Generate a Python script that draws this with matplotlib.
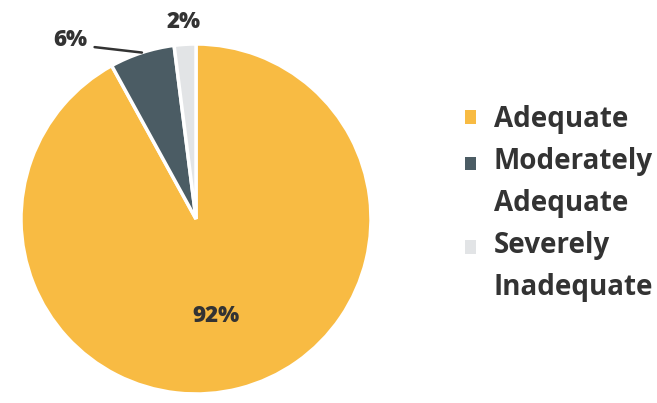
#!/usr/bin/env python3
"""Pie chart: adequacy shares with side legend."""

import numpy as np
import matplotlib
matplotlib.use('Agg')
import matplotlib.pyplot as plt

plt.rcParams['font.family'] = ['Open Sans', 'DejaVu Sans']

# ── Data ──────────────────────────────────────────────────────────
categories = ['Adequate', 'Moderately\nAdequate', 'Severely\nInadequate']
shares = [92, 6, 2]
pct_labels = ['92%', '6%', '2%']

COLORS = ['#F8BB43', '#4B5C64', '#E2E4E6']
TEXT = '#333333'

fig = plt.figure(figsize=(6.57, 4.03), dpi=100)
# pie axes placed in pixel terms: centre (196, 219), radius 175
ax = fig.add_axes([21 / 657, 9 / 403, 350 / 657, 350 / 403])

wedges, _ = ax.pie(shares, colors=COLORS, startangle=90, counterclock=False,
                   radius=1.0,
                   wedgeprops=dict(edgecolor='white', linewidth=2.5))
ax.set_xlim(-1, 1)
ax.set_ylim(-1, 1)
ax.set_aspect('equal')

# ── Percentage labels ─────────────────────────────────────────────
def mid(w):
    return np.deg2rad((w.theta1 + w.theta2) / 2)

# big slice: label inside
a = mid(wedges[0])
ax.text(0.57 * np.cos(a) - 0.03, 0.57 * np.sin(a), pct_labels[0],
        ha='center', va='center', fontsize=16, fontweight='heavy', color=TEXT)

# 6%: leader line out to the upper left
a = mid(wedges[1])
px, py = np.cos(a), np.sin(a)
ax.annotate(pct_labels[1], xy=(px, py), xytext=(px - 0.31, py + 0.07),
            ha='right', va='center', fontsize=16, fontweight='heavy',
            color=TEXT, annotation_clip=False,
            arrowprops=dict(arrowstyle='-', color=TEXT, lw=1.8,
                            relpos=(1.0, 0.25), shrinkA=3, shrinkB=0))

# 2%: just above the slice
a = mid(wedges[2])
ax.text(1.13 * np.cos(a), 1.13 * np.sin(a), pct_labels[2], ha='center',
        va='center', fontsize=16, fontweight='heavy', color=TEXT)

# ── Legend ────────────────────────────────────────────────────────
leg = fig.legend(wedges, categories, loc='upper left',
                 bbox_to_anchor=(465 / 657, 1 - 105 / 403), frameon=False,
                 fontsize=20, handlelength=0.38, handleheight=0.38,
                 handletextpad=0.65, labelspacing=0.47, borderpad=0,
                 borderaxespad=0)
for t in leg.get_texts():
    t.set_color(TEXT)
    t.set_fontweight('bold')
    t.set_linespacing(1.58)
# square markers sit next to the first line of two-line labels
for h, lab in zip(leg.legend_handles, categories):
    h.set_edgecolor('none')
    if '\n' in lab:
        h.set_y(h.get_y() + 14.4)

fig.savefig('out.png', dpi=100)
